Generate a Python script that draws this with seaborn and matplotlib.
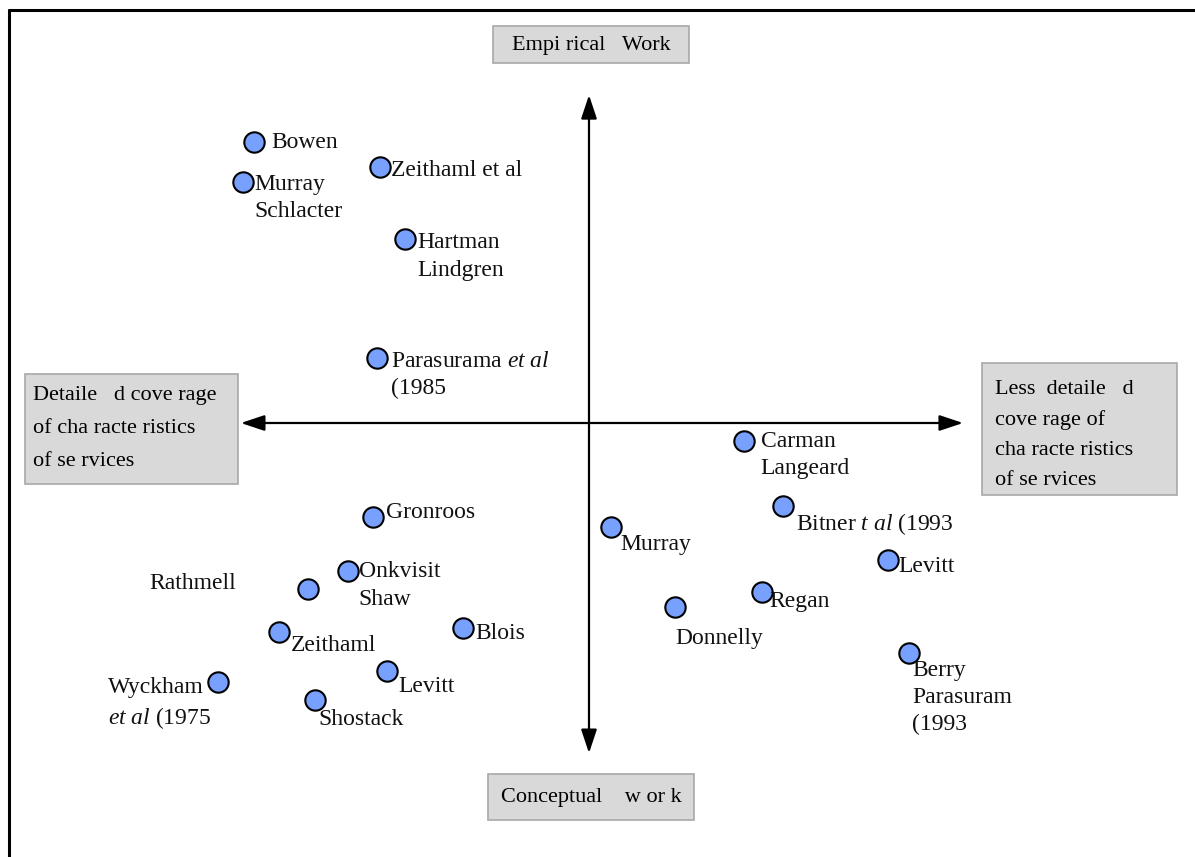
import matplotlib
matplotlib.use("Agg")
import matplotlib.pyplot as plt
from matplotlib.lines import Line2D
from matplotlib.patches import FancyArrowPatch, Rectangle
import pandas as pd
import seaborn as sns


# literature positions on the map (x: coverage of characteristics, y: empirical vs conceptual)
AUTHORS = [
    "Bowen", "Zeithaml et al", "Murray Schlacter", "Hartman Lindgren",
    "Parasurama et al 1985", "Carman Langeard", "Bitner t al 1993", "Gronroos",
    "Murray", "Levitt (R)", "Onkvisit Shaw", "Rathmell", "Regan", "Donnelly",
    "Zeithaml", "Blois", "Berry Parasuram 1993", "Wyckham et al 1975",
    "Levitt (L)", "Shostack",
]
X_POS = [-9.3, -5.8, -9.6, -5.1, -5.9, 4.3, 5.4, -6.0, 0.6, 8.3,
         -6.7, -7.8, 4.8, 2.4, -8.6, -3.5, 8.9, -10.3, -5.6, -7.6]
Y_POS = [7.8, 7.1, 6.7, 5.1, 1.8, -0.5, -2.3, -2.6, -2.9, -3.8,
         -4.1, -4.6, -4.7, -5.1, -5.8, -5.7, -6.4, -7.2, -6.9, -7.7]
LABELS = [
    "Bowen",
    "Zeithaml et al",
    "Murray\nSchlacter",
    "Hartman\nLindgren",
    "Parasurama $\\mathit{et\\ al}$\n(1985",
    "Carman\nLangeard",
    "Bitner $\\mathit{t\\ al}$ (1993",
    "Gronroos",
    "Murray",
    "Levitt",
    "Onkvisit\nShaw",
    "Rathmell",
    "Regan",
    "Donnelly",
    "Zeithaml",
    "Blois",
    "Berry\nParasuram\n(1993",
    "Wyckham\n$\\mathit{et\\ al}$ (1975",
    "Levitt",
    "Shostack",
]

AXIS_TOP = "Empi rical   Work"
AXIS_BOTTOM = "Conceptual    w or k"
AXIS_LEFT = "Detaile   d cove rage\nof cha racte ristics\nof se rvices"
AXIS_RIGHT = "Less  detaile   d\ncove rage of\ncha racte ristics\nof se rvices"

# label placement in pixels relative to the marker (dx, dy down, alignment)
LABEL_OFFSETS = [
    (17, 0, "left"), (11, 3, "left"), (11, 16, "left"), (12, 17, "left"),
    (14, 17, "left"), (17, 14, "left"), (13, 18, "left"), (13, -4, "left"),
    (10, 17, "left"), (11, 7, "left"), (11, 15, "left"), (-72, -5, "right"),
    (8, 9, "left"), (0, 32, "left"), (11, 14, "left"), (12, 5, "left"),
    (3, 44, "left"), (-110, 22, "left"), (11, 15, "left"), (3, 19, "left"),
]

UNIT = 36  # pixels per data unit
ORIGIN = (589, 423)
W, H = 1195, 857

sns.set_theme(style="white")
plt.rcParams["font.family"] = ["Liberation Serif", "DejaVu Serif"]
plt.rcParams["mathtext.fontset"] = "custom"
plt.rcParams["mathtext.rm"] = "Liberation Serif"
plt.rcParams["mathtext.it"] = "Liberation Serif:italic"

df = pd.DataFrame({"author": AUTHORS, "x": X_POS, "y": Y_POS, "label": LABELS})

fig = plt.figure(figsize=(W / 100, H / 100), dpi=100)
ax = fig.add_axes([0, 0, 1, 1])
ax.set_xlim(-ORIGIN[0] / UNIT, (W - ORIGIN[0]) / UNIT)
ax.set_ylim(-(H - ORIGIN[1]) / UNIT, ORIGIN[1] / UNIT)
ax.set_axis_off()

# page frame (top and left rules)
fig.add_artist(Line2D([9 / W, 1], [1 - 10 / H, 1 - 10 / H], color="black", lw=2.2))
fig.add_artist(Line2D([9 / W, 9 / W], [0, 1 - 10 / H], color="black", lw=2.2))

# axes arrows
arrow_kw = dict(arrowstyle="<|-|>,head_length=0.72,head_width=0.24",
                mutation_scale=20, color="black", lw=1.6, shrinkA=0, shrinkB=0)
ax.add_patch(FancyArrowPatch((-9.67, 0), (10.39, 0), **arrow_kw))
ax.add_patch(FancyArrowPatch((0, 9.11), (0, -9.17), **arrow_kw))

# grey boxes
box_kw = dict(facecolor="#D9D9D9", edgecolor="#A8A8A8", lw=1.2, zorder=2)
ax.add_patch(Rectangle((-2.67, 10.0), 5.45, 1.03, **box_kw))
ax.add_patch(Rectangle((-2.81, -11.03), 5.73, 1.28, **box_kw))
ax.add_patch(Rectangle((-15.67, -1.69), 5.92, 3.05, **box_kw))
ax.add_patch(Rectangle((10.92, -2.0), 5.41, 3.67, **box_kw))

box_text = dict(fontsize=16, color="black", zorder=3)
ax.text(0.06, 10.50, AXIS_TOP, ha="center", va="center", **box_text)
ax.text(0.06, -10.40, AXIS_BOTTOM, ha="center", va="center", **box_text)
ax.text(-15.44, -0.15, AXIS_LEFT, ha="left", va="center", linespacing=2.0, **box_text)
ax.text(11.28, -0.33, AXIS_RIGHT, ha="left", va="center", linespacing=1.76, **box_text)

sns.scatterplot(data=df, x="x", y="y", s=215, color="#78A0FF",
                edgecolor="black", linewidth=1.5, ax=ax, zorder=4, legend=False)
ax.set_axis_off()

for (_, row), (dx, dy, ha) in zip(df.iterrows(), LABEL_OFFSETS):
    ax.annotate(row["label"], (row["x"], row["y"]), xytext=(dx, -dy),
                textcoords="offset pixels", ha=ha, va="center",
                fontsize=17, linespacing=1.39, color="#111111", zorder=5)

fig.savefig("out.png", dpi=100, facecolor="white")
